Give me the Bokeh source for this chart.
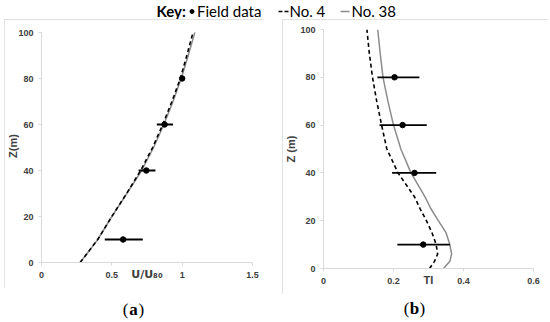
from bokeh.plotting import figure
from bokeh.models import Range1d, FixedTicker, Label, ColumnDataSource, Spacer
from bokeh.layouts import column, row
from bokeh.embed import file_html
from bokeh.resources import INLINE

# ---------------- data ----------------
# panel (a): normalised wind speed U/U80
z_field = [10, 40, 60, 80]
u_field = [0.58, 0.745, 0.875, 1.0]
u_lo = [0.45, 0.69, 0.82, 1.0]
u_hi = [0.72, 0.81, 0.935, 1.0]

z_prof_a = [0, 2, 4, 6, 8, 10, 20, 30, 40, 50, 60, 70, 80, 90, 100]
u_no4 = [0.275, 0.30, 0.325, 0.35, 0.375, 0.40, 0.50, 0.605, 0.705, 0.79, 0.862, 0.927, 0.987, 1.033, 1.077]
u_no38 = [0.275, 0.30, 0.325, 0.35, 0.375, 0.40, 0.50, 0.607, 0.712, 0.797, 0.87, 0.935, 0.993, 1.043, 1.09]

# panel (b): turbulence intensity TI
ti_field = [0.285, 0.26, 0.226, 0.203]
ti_lo = [0.211, 0.196, 0.16, 0.154]
ti_hi = [0.361, 0.322, 0.295, 0.274]

z_prof_b = [0, 3, 6, 10, 15, 20, 25, 30, 40, 50, 60, 70, 80, 90, 100]
ti_no4 = [0.303, 0.317, 0.326, 0.322, 0.31, 0.294, 0.276, 0.26, 0.213, 0.181, 0.166, 0.152, 0.14, 0.131, 0.124]
ti_no38 = [0.343, 0.361, 0.366, 0.361, 0.35, 0.328, 0.307, 0.29, 0.25, 0.221, 0.20, 0.184, 0.17, 0.162, 0.155]

y_ticks = [0, 20, 40, 60, 80, 100]
x_ticks_a = [0, 0.5, 1, 1.5]
x_tick_labels_a = ["0", "0.5", "1", "1.5"]
x_ticks_b = [0, 0.2, 0.4, 0.6]
x_tick_labels_b = ["0", "0.2", "0.4", "0.6"]

x_title_a = "U/U₈₀"
x_title_b = "TI"
y_title_a = "Z(m)"
y_title_b = "Z (m)"
key_labels = ["Key:", "Field data", "No. 4", "No. 38"]
captions = ["a", "b"]

AXIS_GREY = "#d9d9d9"
TEXT_GREY = "#404040"
TICK_FONT = "Liberation Sans"


def make_panel(xmax, xticks, xlabels, xtitle, ytitle, yr, L, R, W, H, ystand, xfont):
    # both panels share the same top/bottom border sizes (a row aligns plot frames)
    p = figure(width=W, height=H, x_range=Range1d(0, xmax), y_range=Range1d(*yr),
               min_border_left=L, min_border_right=R, min_border_top=10, min_border_bottom=26,
               toolbar_location=None, output_backend="svg",
               styles={"outline": "1px solid " + AXIS_GREY, "outline-offset": "-1px"})
    p.outline_line_color = None
    p.grid.visible = False
    p.xaxis.ticker = FixedTicker(ticks=xticks)
    p.xaxis.major_label_overrides = {t: l for t, l in zip(xticks, xlabels)}
    p.yaxis.ticker = FixedTicker(ticks=y_ticks)
    p.yaxis.bounds = (0, 100)
    for ax in (p.xaxis, p.yaxis):
        ax.axis_line_color = AXIS_GREY
        ax.major_tick_line_color = AXIS_GREY
        ax.major_tick_out = 3
        ax.major_tick_in = 0
        ax.minor_tick_line_color = None
        ax.major_label_text_font = TICK_FONT
        ax.major_label_text_font_style = "bold"
        ax.major_label_text_font_size = "9px"
        ax.major_label_text_color = TEXT_GREY
        ax.axis_label_text_font = TICK_FONT
        ax.axis_label_text_font_style = "bold"
        ax.axis_label_text_font_size = "11px"
        ax.axis_label_text_color = TEXT_GREY
    p.xaxis.axis_label_text_font = xfont
    p.xaxis.major_label_standoff = 6
    p.yaxis.major_label_standoff = 5
    p.xaxis.axis_label = xtitle
    p.xaxis.axis_label_standoff = -13
    p.yaxis.axis_label = ytitle
    p.yaxis.axis_label_standoff = ystand
    return p


def draw_series(p, z_prof, s4, s38, xf, lo, hi):
    p.line(s38, z_prof, line_color="#8c8c8c", line_width=1.5)
    p.line(s4, z_prof, line_color="black", line_width=1.6, line_dash="4 3")
    src = ColumnDataSource(dict(x=xf, lo=lo, hi=hi, z=z_field))
    p.segment(x0="lo", x1="hi", y0="z", y1="z", source=src, line_color="black", line_width=1.8)
    p.scatter(x="x", y="z", source=src, size=5.5, color="black")


# ---------------- panel (a) ----------------
# frame spans page y 29..262; data 0..100 sits at page y 262..32 (2.3 px per unit)
yr_a = (0, 100 + (32 - 29) / 2.3)
pa = make_panel(1.5, x_ticks_a, x_tick_labels_a, x_title_a, y_title_a, yr_a,
                L=36, R=11, W=259, H=269, ystand=-4, xfont="DejaVu Sans")
draw_series(pa, z_prof_a, u_no4, u_no38, u_field, u_lo, u_hi)

# ---------------- panel (b) ----------------
pb = make_panel(0.6, x_ticks_b, x_tick_labels_b, x_title_b, y_title_b, (0, 100),
                L=38, R=15, W=266, H=275, ystand=0, xfont=TICK_FONT)
draw_series(pb, z_prof_b, ti_no4, ti_no38, ti_field, ti_lo, ti_hi)

# ---------------- key ----------------
pk = figure(width=550, height=19, x_range=Range1d(0, 550), y_range=Range1d(19, 0),
            min_border=0, toolbar_location=None, output_backend="svg")
pk.axis.visible = False
pk.grid.visible = False
pk.outline_line_color = None
KF = "Lato"
KS = "15px"
pk.add_layout(Label(x=156, y=10, text=key_labels[0], text_baseline="middle", text_font=KF,
                    text_font_style="bold", text_font_size=KS, text_color="black"))
pk.scatter(x=[191.5], y=[11], size=4, color="black")
pk.add_layout(Label(x=196.5, y=10, text=key_labels[1], text_baseline="middle", text_font=KF,
                    text_font_size=KS, text_color="black"))
pk.line(x=[278, 288], y=[11, 11], line_color="black", line_width=1.3, line_dash="4 2")
pk.add_layout(Label(x=289, y=10, text=key_labels[2], text_baseline="middle", text_font=KF,
                    text_font_size=KS, text_color="black"))
pk.line(x=[340, 349], y=[11, 11], line_color="#8c8c8c", line_width=1.3)
pk.add_layout(Label(x=351, y=10, text=key_labels[3], text_baseline="middle", text_font=KF,
                    text_font_size=KS, text_color="black"))

# ---------------- captions ----------------
pc = figure(width=550, height=28, x_range=Range1d(0, 550), y_range=Range1d(28, 0),
            min_border=0, toolbar_location=None, output_backend="svg")
pc.axis.visible = False
pc.grid.visible = False
pc.outline_line_color = None
CF = "Liberation Serif"
CS = "17px"
for cx, cy, letter in zip([133, 414], [14.5, 13.5], captions):
    pc.add_layout(Label(x=cx, y=cy, x_offset=-5, text="(", text_align="right", text_baseline="middle",
                        text_font=CF, text_font_size=CS, text_color="black"))
    pc.add_layout(Label(x=cx, y=cy, text=letter, text_align="center", text_baseline="middle",
                        text_font=CF, text_font_style="bold", text_font_size=CS, text_color="black"))
    pc.add_layout(Label(x=cx, y=cy, x_offset=5, text=")", text_align="left", text_baseline="middle",
                        text_font=CF, text_font_size=CS, text_color="black"))

layout = column(pk, row(Spacer(width=4), pa, Spacer(width=19), pb, spacing=0), pc, spacing=0)
open("out.html", "w").write(file_html(layout, INLINE))
